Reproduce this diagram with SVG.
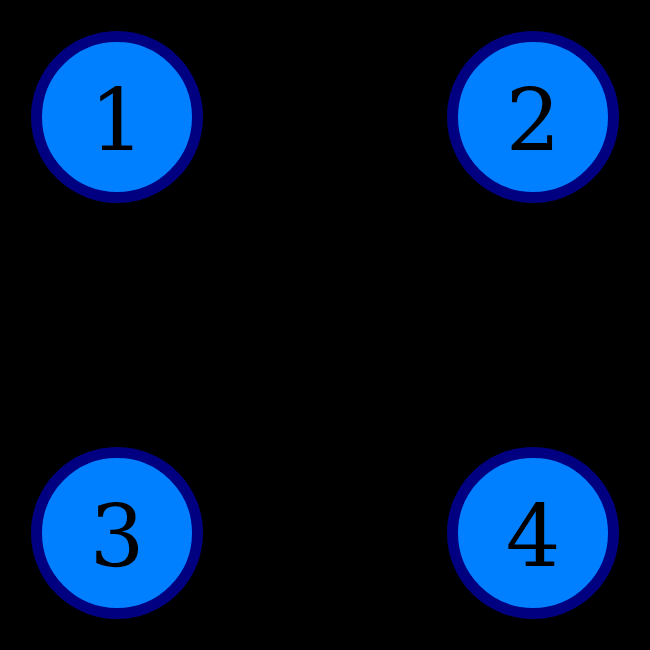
<svg xmlns="http://www.w3.org/2000/svg" width="650" height="650" viewBox="0 0 650 650">
<style>
.node circle{fill:#0080ff;stroke:#000080;stroke-width:11}
.node text{font-family:"DejaVu Serif","Liberation Serif",serif;font-size:86px;fill:#000;text-anchor:middle}
</style>
<rect width="650" height="650" fill="#000"/>
<g id="connectors"></g>
<g id="n1" class="node"><circle cx="117" cy="117" r="80.5"/><text x="117" y="150">1</text></g>
<g id="n2" class="node"><circle cx="533" cy="117" r="80.5"/><text x="533" y="150">2</text></g>
<g id="n3" class="node"><circle cx="117" cy="533" r="80.5"/><text x="117" y="566">3</text></g>
<g id="n4" class="node"><circle cx="533" cy="533" r="80.5"/><text x="533" y="566">4</text></g>
</svg>
